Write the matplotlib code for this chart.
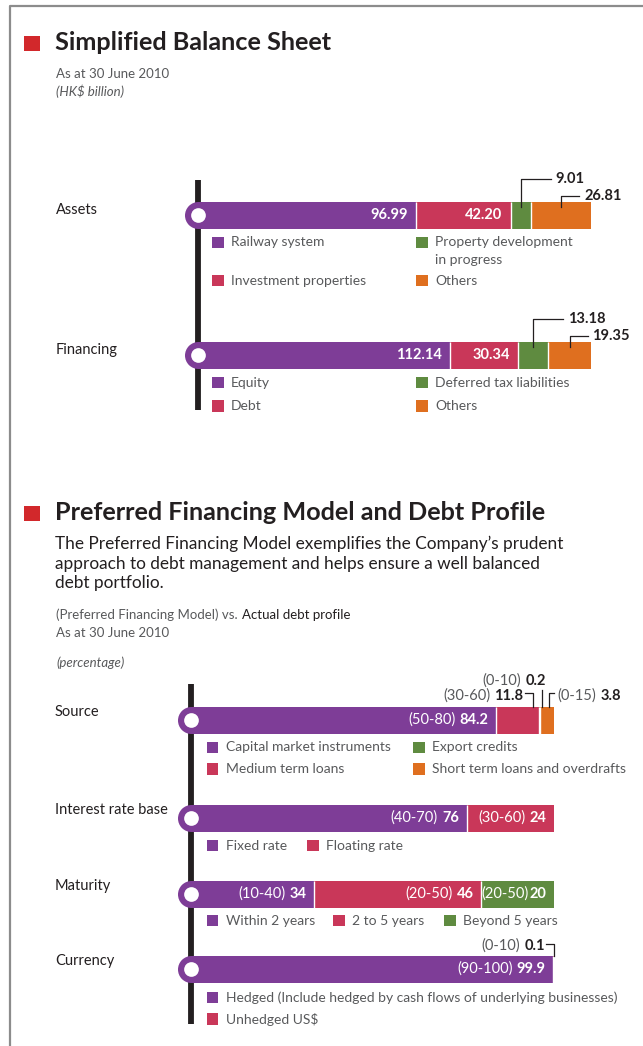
import matplotlib
matplotlib.use("Agg")
import matplotlib.pyplot as plt
from matplotlib.patches import Rectangle

plt.rcParams['font.family'] = ['Lato', 'DejaVu Sans']

# ---- data ----
bs_rows = ["Assets", "Financing"]
assets_labels = ["Railway system", "Investment properties",
                 "Property development\nin progress", "Others"]
assets_values = [96.99, 42.20, 9.01, 26.81]
financing_labels = ["Equity", "Debt", "Deferred tax liabilities", "Others"]
financing_values = [112.14, 30.34, 13.18, 19.35]

dp_rows = ["Source", "Interest rate base", "Maturity", "Currency"]
source_labels = ["Capital market instruments", "Medium term loans",
                 "Export credits", "Short term loans and overdrafts"]
source_values = [84.2, 11.8, 0.2, 3.8]
source_ranges = ["(50-80)", "(30-60)", "(0-10)", "(0-15)"]
interest_labels = ["Fixed rate", "Floating rate"]
interest_values = [76, 24]
interest_ranges = ["(40-70)", "(30-60)"]
maturity_labels = ["Within 2 years", "2 to 5 years", "Beyond 5 years"]
maturity_values = [34, 46, 20]
maturity_ranges = ["(10-40)", "(20-50)", "(20-50)"]
currency_labels = ["Hedged (Include hedged by cash flows of underlying businesses)",
                   "Unhedged US$"]
currency_values = [99.9, 0.1]
currency_ranges = ["(90-100)", "(0-10)"]

# ---- style ----
PURPLE = "#7e3d97"
RED = "#c93759"
GREEN = "#5f8b40"
ORANGE = "#df6f1f"
colors = [PURPLE, RED, GREEN, ORANGE]
DARK = "#231f20"
GRAY = "#58595b"
W, H = 643, 1046
BAR_H = 27
K1, X1 = 2.25, 197.5   # px per HK$ bn, x of zero
K2, X2 = 3.63, 190.7   # px per percent, x of zero

fig = plt.figure(figsize=(W / 100, H / 100), dpi=100)
ax = fig.add_axes([0, 0, 1, 1])
ax.set_xlim(0, W)
ax.set_ylim(H, 0)
ax.axis('off')


def bar_axes(k, x0):
    b = fig.add_axes([0, 0, 1, 1])
    b.set_xlim(-x0 / k, (W - x0) / k)
    b.set_ylim(H, 0)
    b.axis('off')
    b.patch.set_alpha(0)
    return b


# frame
ax.plot([10, 10, W], [H, 6, 6], color="#8c8c8c", lw=1.6, solid_capstyle='butt')


def section_title(y, text):
    ax.add_patch(Rectangle((24, y - 7.5), 15.5, 15, color="#d2282b", lw=0))
    ax.text(55, y, text, fontsize=18.2, weight='bold', color=DARK, va='center')


def legend(items, positions, fs=10):
    for lab, c, (x, y) in zip(items, colors, positions):
        ax.add_patch(Rectangle((x, y - 5.75), 11.5, 11.5, color=c, lw=0))
        for j, line in enumerate(lab.split("\n")):
            ax.text(x + 19, y + j * 18, line, fontsize=fs, color=GRAY, va='center')


def stack(b, y, values, k):
    lefts = [sum(values[:i]) for i in range(len(values))]
    b.barh([y] * len(values), values, left=lefts, height=BAR_H,
           color=colors[:len(values)], lw=0)
    b.vlines(lefts[1:], y - BAR_H / 2, y + BAR_H / 2, color='white', lw=1)
    b.scatter([0], [y], s=378, color=PURPLE, lw=0, zorder=3)
    b.scatter([0], [y], s=112, color='white', lw=0, zorder=4)
    return lefts


def vline(x, y0, y1):
    ax.plot([x, x], [y0, y1], color=DARK, lw=4.2, solid_capstyle='butt')


# ================= Simplified Balance Sheet =================
section_title(43, "Simplified Balance Sheet")
ax.text(56, 74, "As at 30 June 2010", fontsize=9.5, color=GRAY, va='center')
ax.text(56, 91, "(HK$ billion)", fontsize=9.5, color=GRAY, va='center', style='italic')

vline(X1, 180, 410)
b1 = bar_axes(K1, X1)
bs_y = [215, 355]
bs_legend_pos = [[(212, 242.5), (212, 280.7), (416, 242.5), (416, 280.7)],
                 [(212, 382.7), (212, 406), (416, 382.7), (416, 406)]]
for row, y, vals, labs, lpos in zip(bs_rows, bs_y, [assets_values, financing_values],
                                    [assets_labels, financing_labels], bs_legend_pos):
    ax.text(56, y - 5, row, fontsize=10.5, color=DARK, va='center')
    lefts = stack(b1, y, vals, K1)
    top = y - BAR_H / 2
    for i, (l, v) in enumerate(zip(lefts, vals)):
        if i < 2:
            b1.annotate(f"{v:.2f}", xy=(l + v, y), xytext=(-6, 0),
                        textcoords='offset points', ha='right', va='center',
                        color='white', weight='bold', fontsize=10.5)
        else:
            cx = l + v / 2
            dx, dy = (35, 22.5) if i == 2 else (23, 6)
            b1.plot([cx, cx, cx + (dx - 5) / K1], [top + 5, top - dy, top - dy],
                    color=DARK, lw=0.9)
            b1.text(cx + dx / K1, top - dy, f"{v:.2f}", ha='left', va='center',
                    color=DARK, weight='bold', fontsize=10.5)
    legend(labs, lpos)

# ================= Preferred Financing Model =================
section_title(513, "Preferred Financing Model and Debt Profile")
desc = ["The Preferred Financing Model exemplifies the Company\u2019s prudent",
        "approach to debt management and helps ensure a well balanced",
        "debt portfolio."]
for j, line in enumerate(desc):
    ax.text(55, 544 + j * 19.5, line, fontsize=12.4, color=DARK, va='center')
t = ax.text(56, 615, "(Preferred Financing Model) vs.", fontsize=9.5, color=GRAY,
            va='center')
ax.annotate("Actual debt profile", xy=(1, 0.5), xycoords=t, xytext=(3, 0),
            textcoords='offset points', fontsize=9.5, color=DARK, va='center')
ax.text(56, 633, "As at 30 June 2010", fontsize=9.5, color=GRAY, va='center')
ax.text(56, 663, "(percentage)", fontsize=9.5, color=GRAY, va='center', style='italic')

vline(X2, 684, 1024)
b2 = bar_axes(K2, X2)


def right_pair(b, x, y, rng, val, pad, color='white', gap=3):
    tv = b.annotate(val, xy=(x, y), xytext=(-pad, 0), textcoords='offset points',
                    ha='right', va='center', color=color, weight='bold', fontsize=10.5)
    b.annotate(rng, xy=(0, 0.5), xycoords=tv, xytext=(-gap, 0), textcoords='offset points',
               ha='right', va='center', color=color if color == 'white' else GRAY,
               fontsize=10.5)


def left_pair(b, x, y, rng, val, pad):
    tr = b.annotate(rng, xy=(x, y), xytext=(pad, 0), textcoords='offset points',
                    ha='left', va='center', color=GRAY, fontsize=10.5)
    b.annotate(val, xy=(1, 0.5), xycoords=tr, xytext=(3, 0), textcoords='offset points',
               ha='left', va='center', color=DARK, weight='bold', fontsize=10.5)


dp_y = [720, 818, 894, 969]
dp_legend_pos = [[(206.7, 747.3), (206.7, 769), (413, 747.3), (413, 769)],
                 [(206.7, 845.7), (307.3, 845.7)],
                 [(206.7, 920.7), (333.3, 920.7), (444.3, 920.7)],
                 [(206.7, 997.3), (206.7, 1019)]]
dp_vals = [source_values, interest_values, maturity_values, currency_values]
dp_rngs = [source_ranges, interest_ranges, maturity_ranges, currency_ranges]
dp_labs = [source_labels, interest_labels, maturity_labels, currency_labels]
px = 1 / K2
for r, (row, y) in enumerate(zip(dp_rows, dp_y)):
    ax.text(55, y - 8, row, fontsize=10.5, color=DARK, va='center')
    vals, rngs = dp_vals[r], dp_rngs[r]
    lefts = stack(b2, y, vals, K2)
    top = y - BAR_H / 2
    for i, (l, v, rg) in enumerate(zip(lefts, vals, rngs)):
        s = f"{v:g}"
        if r == 0 and i == 1:
            # medium term loans: callout at upper left
            x = l + v - 6 * px
            b2.plot([x, x, x - 8 * px], [top, top - 14, top - 14], color=DARK, lw=0.9)
            right_pair(b2, x - 10 * px, top - 10.7, rg, s, 0, color=DARK)
        elif v >= 10:
            gap = 0.5 if (r == 2 and i == 2) else 3
            right_pair(b2, l + v, y, rg, s, 5.5, gap=gap)
        elif r == 0 and i == 2:
            x = l + v / 2 + 2 * px
            b2.plot([x, x], [top, top - 17], color=DARK, lw=0.9)
            right_pair(b2, x + 4 * px, top - 25.7, rg, s, 0, color=DARK)
        elif r == 0 and i == 3:
            x = l + v / 2 + 2.5 * px
            b2.plot([x, x, x + 5 * px], [top, top - 14, top - 14], color=DARK, lw=0.9)
            left_pair(b2, x + 8 * px, top - 10.7, rg, s, 0)
        elif r == 3 and i == 1:
            x = l + v
            b2.plot([x, x, x - 8 * px], [top, top - 11.7, top - 11.7], color=DARK, lw=0.9)
            right_pair(b2, x - 9 * px, top - 9.5, rg, s, 0, color=DARK)
    legend(dp_labs[r], dp_legend_pos[r])

fig.savefig("out.png", dpi=100)
